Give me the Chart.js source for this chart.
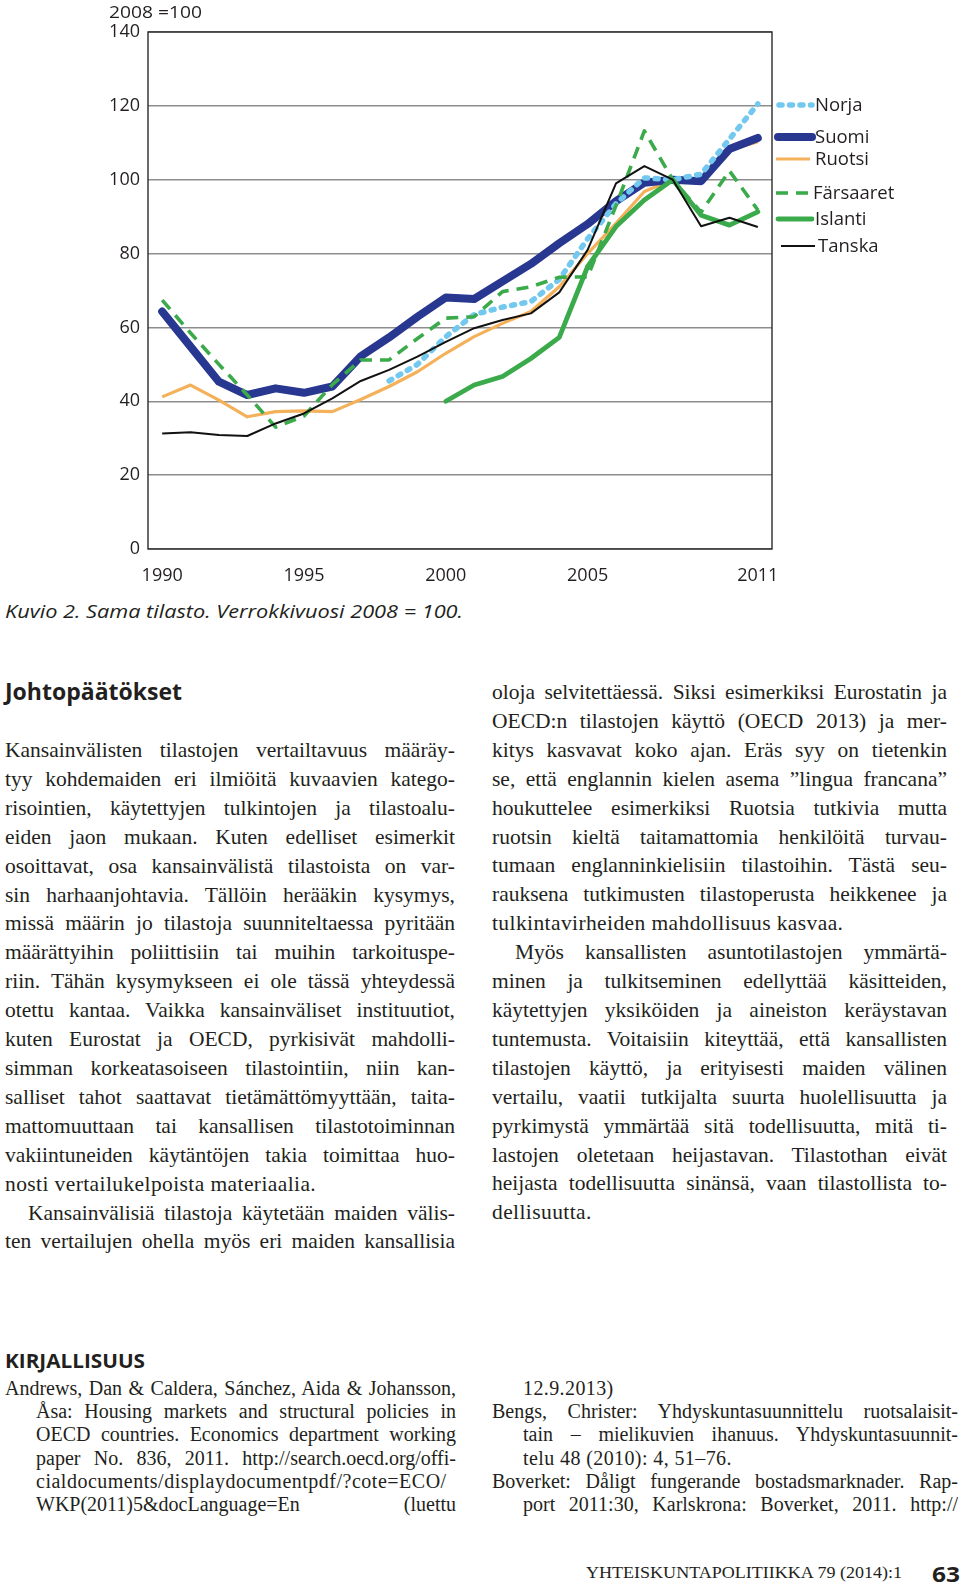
<!DOCTYPE html>
<html>
<head>
<meta charset="utf-8">
<script src="https://cdn.jsdelivr.net/npm/chart.js@4.4.0/dist/chart.umd.min.js"></script>
<style>
  html, body { margin: 0; padding: 0; background: #fff; }
  body { width: 960px; height: 1584px; position: relative; overflow: hidden; color: #231f20; }
  #chartBox { position: absolute; left: 0; top: 0; width: 960px; height: 590px; }
  .abs { position: absolute; white-space: nowrap; transform-origin: left center; }
  .sans { font-family: "Open Sans", sans-serif; }
  .col { position: absolute; font-family: "Liberation Serif", serif; font-size: 21.5px; line-height: 28.9px; }
  .col div { white-space: nowrap; text-align: justify; text-align-last: justify; }
  .col div.e { text-align-last: left; }
  .col div.i { padding-left: 23px; }
  .refs { position: absolute; font-family: "Liberation Serif", serif; font-size: 20px; line-height: 23.2px; }
  .refs div { white-space: nowrap; text-align: justify; text-align-last: justify; }
  .refs div.e { text-align-last: left; }
  .refs div.h { padding-left: 31px; }
</style>
</head>
<body>
<div id="chartBox"><canvas id="myLineChart" width="960" height="590"></canvas></div>
<div class="abs sans" data-w="93" style="left:109px; top:1px; font-size:17px; line-height:22px;">2008 =100</div>

<div class="abs sans" data-w="458" style="left:5px; top:599px; font-size:19px; line-height:24px; font-style:italic;">Kuvio 2. Sama tilasto. Verrokkivuosi 2008 = 100.</div>

<div class="abs sans" data-w="177" style="left:5px; top:677px; font-size:23px; line-height:28px; font-weight:700;">Johtopäätökset</div>

<div class="col" style="left:5px; top:736px; width:450px;">
  <div>Kansainvälisten tilastojen vertailtavuus määräy-</div>
  <div>tyy kohdemaiden eri ilmiöitä kuvaavien katego-</div>
  <div>risointien, käytettyjen tulkintojen ja tilastoalu-</div>
  <div>eiden jaon mukaan. Kuten edelliset esimerkit</div>
  <div>osoittavat, osa kansainvälistä tilastoista on var-</div>
  <div>sin harhaanjohtavia. Tällöin herääkin kysymys,</div>
  <div>missä määrin jo tilastoja suunniteltaessa pyritään</div>
  <div>määrättyihin poliittisiin tai muihin tarkoituspe-</div>
  <div>riin. Tähän kysymykseen ei ole tässä yhteydessä</div>
  <div>otettu kantaa. Vaikka kansainväliset instituutiot,</div>
  <div>kuten Eurostat ja OECD, pyrkisivät mahdolli-</div>
  <div>simman korkeatasoiseen tilastointiin, niin kan-</div>
  <div>salliset tahot saattavat tietämättömyyttään, taita-</div>
  <div>mattomuuttaan tai kansallisen tilastotoiminnan</div>
  <div>vakiintuneiden käytäntöjen takia toimittaa huo-</div>
  <div class="e">nosti vertailukelpoista materiaalia.</div>
  <div class="i">Kansainvälisiä tilastoja käytetään maiden välis-</div>
  <div>ten vertailujen ohella myös eri maiden kansallisia</div>
</div>

<div class="col" style="left:492px; top:678px; width:455px;">
  <div>oloja selvitettäessä. Siksi esimerkiksi Eurostatin ja</div>
  <div>OECD:n tilastojen käyttö (OECD 2013) ja mer-</div>
  <div>kitys kasvavat koko ajan. Eräs syy on tietenkin</div>
  <div>se, että englannin kielen asema ”lingua francana”</div>
  <div>houkuttelee esimerkiksi Ruotsia tutkivia mutta</div>
  <div>ruotsin kieltä taitamattomia henkilöitä turvau-</div>
  <div>tumaan englanninkielisiin tilastoihin. Tästä seu-</div>
  <div>rauksena tutkimusten tilastoperusta heikkenee ja</div>
  <div class="e">tulkintavirheiden mahdollisuus kasvaa.</div>
  <div class="i">Myös kansallisten asuntotilastojen ymmärtä-</div>
  <div>minen ja tulkitseminen edellyttää käsitteiden,</div>
  <div>käytettyjen yksiköiden ja aineiston keräystavan</div>
  <div>tuntemusta. Voitaisiin kiteyttää, että kansallisten</div>
  <div>tilastojen käyttö, ja erityisesti maiden välinen</div>
  <div>vertailu, vaatii tutkijalta suurta huolellisuutta ja</div>
  <div>pyrkimystä ymmärtää sitä todellisuutta, mitä ti-</div>
  <div>lastojen oletetaan heijastavan. Tilastothan eivät</div>
  <div>heijasta todellisuutta sinänsä, vaan tilastollista to-</div>
  <div class="e">dellisuutta.</div>
</div>

<div class="abs sans" data-w="140" style="left:5px; top:1349px; font-size:19px; line-height:24px; font-weight:700;">KIRJALLISUUS</div>

<div class="refs" style="left:5px; top:1377px; width:451px;">
  <div>Andrews, Dan &amp; Caldera, Sánchez, Aida &amp; Johansson,</div>
  <div class="h">Åsa: Housing markets and structural policies in</div>
  <div class="h">OECD countries. Economics department working</div>
  <div class="h">paper No. 836, 2011. http://search.oecd.org/offi-</div>
  <div class="h">cialdocuments/displaydocumentpdf/?cote=ECO/</div>
  <div class="h">WKP(2011)5&amp;docLanguage=En (luettu</div>
</div>

<div class="refs" style="left:492px; top:1377px; width:466px;">
  <div class="h e">12.9.2013)</div>
  <div>Bengs, Christer: Yhdyskuntasuunnittelu ruotsalaisit-</div>
  <div class="h">tain – mielikuvien ihanuus. Yhdyskuntasuunnit-</div>
  <div class="h e">telu 48 (2010): 4, 51–76.</div>
  <div>Boverket: Dåligt fungerande bostadsmarknader. Rap-</div>
  <div class="h">port 2011:30, Karlskrona: Boverket, 2011. http://</div>
</div>

<div class="abs" data-w="316" style="left:586px; top:1562px; font-family:'Liberation Serif', serif; font-size:16px; line-height:22px;">YHTEISKUNTAPOLITIIKKA 79 (2014):1</div>
<div class="abs sans" data-w="28" style="left:932px; top:1559px; font-size:22px; line-height:28px; font-weight:700;">63</div>

<script>
// years on the x axis
const years = ['1990','1991','1992','1993','1994','1995','1996','1997','1998','1999','2000',
               '2001','2002','2003','2004','2005','2006','2007','2008','2009','2010','2011'];
const shownYears = ['1990','1995','2000','2005','2011'];
const yTicks = [0, 20, 40, 60, 80, 100, 120, 140];

// index values, 2008 = 100
const norja     = [null, null, null, null, null, null, null, null, 45.5, 50, 57.5, 63.5, 65.5, 67, 73, 84, 93.5, 100.5, 100, 101.5, 111, 120.5];
const suomi     = [64.3, 54.8, 45.3, 41.7, 43.5, 42.3, 44, 52.2, 57.3, 62.9, 68.1, 67.7, 72.5, 77.2, 82.8, 88, 94.2, 99.2, 100, 99.6, 108.3, 111.3];
const ruotsi    = [41.2, 44.4, 40.3, 35.8, 37.2, 37.4, 37.2, 40.5, 44, 48, 53, 57.5, 61.1, 64.3, 71, 80, 88.2, 96.8, 100, 100, 108, 110.3];
const farsaaret = [67.4, 58.5, 50, 41.7, 33, 36, 44.5, 51.2, 51.2, 57, 62.5, 62.9, 69.7, 71, 73.6, 73.7, 93, 113.2, 100, 91.2, 102.4, 91.8];
const islanti   = [null, null, null, null, null, null, null, null, null, null, 40, 44.4, 46.7, 51.6, 57.3, 76.5, 87.3, 94.5, 100, 90.4, 87.7, 91.3];
const tanska    = [31.3, 31.6, 30.9, 30.6, 34, 36.7, 40.8, 45.5, 48.5, 52.1, 56.1, 59.8, 62, 63.8, 69.5, 81, 99, 103.7, 100, 87.4, 89.7, 87.2];

const tickFont = { family: 'Open Sans', size: 18 };

// legend sample positions (x from, x to, text x, y)
const legendPos = {
  Norja:     [779, 812, 815, 105],
  Suomi:     [778, 812, 815, 137],
  Ruotsi:    [776, 810, 815, 159],
  'Färsaaret': [776, 808, 813, 193],
  Islanti:   [778, 812, 815, 219],
  Tanska:    [781, 815, 818, 246]
};

const framePlugin = {
  id: 'frame',
  beforeDatasetsDraw(chart) {
    const a = chart.chartArea, c = chart.ctx;
    c.save();
    c.lineWidth = 1.4;
    c.strokeStyle = '#2a2a2a';
    c.strokeRect(a.left, a.top, a.right - a.left, a.bottom - a.top);
    c.restore();
  }
};

const legendPlugin = {
  id: 'sideLegend',
  afterDraw(chart) {
    const c = chart.ctx;
    chart.data.datasets.forEach(ds => {
      const p = legendPos[ds.label];
      c.save();
      c.strokeStyle = ds.borderColor;
      c.lineWidth = ds.borderWidth;
      c.lineCap = ds.borderCapStyle || 'butt';
      c.setLineDash(ds.borderDash || []);
      c.beginPath();
      c.moveTo(p[0], p[3]);
      c.lineTo(p[1], p[3]);
      c.stroke();
      c.setLineDash([]);
      c.fillStyle = '#231f20';
      c.font = '18.5px "Open Sans"';
      c.textBaseline = 'middle';
      c.fillText(ds.label, p[2], p[3] + 1);
      c.restore();
    });
  }
};

const data = {
  labels: years,
  datasets: [
    { label: 'Norja', data: norja, borderColor: '#72c8ee', borderWidth: 5.5, borderDash: [3, 7.5], borderCapStyle: 'round', order: 3 },
    { label: 'Suomi', data: suomi, borderColor: '#28378f', borderWidth: 8, borderCapStyle: 'round', order: 4 },
    { label: 'Ruotsi', data: ruotsi, borderColor: '#f5b05a', borderWidth: 3.2, order: 5 },
    { label: 'Färsaaret', data: farsaaret, borderColor: '#3aaa4b', borderWidth: 3.6, borderDash: [12, 8], order: 1 },
    { label: 'Islanti', data: islanti, borderColor: '#3aaa4b', borderWidth: 4.8, borderCapStyle: 'round', order: 2 },
    { label: 'Tanska', data: tanska, borderColor: '#111111', borderWidth: 2, order: 0 }
  ]
};
data.datasets.forEach(ds => {
  ds.fill = false;
  ds.tension = 0;
  ds.pointRadius = 0;
  ds.pointHoverRadius = 0;
  ds.borderJoinStyle = 'round';
  ds.spanGaps = false;
});

const config = {
  type: 'line',
  data: data,
  plugins: [framePlugin, legendPlugin],
  options: {
    responsive: false,
    animation: false,
    layout: { padding: { left: 0, right: 188, top: 32, bottom: 0 } },
    plugins: { legend: { display: false }, tooltip: { enabled: false } },
    scales: {
      x: {
        offset: true,
        grid: { display: false },
        border: { display: false },
        ticks: {
          autoSkip: false, maxRotation: 0, padding: 8, color: '#231f20', font: tickFont,
          callback: (v, i) => shownYears.includes(years[i]) ? years[i] : ''
        },
        afterFit: s => { s.height = 41; }
      },
      y: {
        min: 0, max: 140,
        afterBuildTicks: s => { s.ticks = yTicks.map(v => ({ value: v })); },
        grid: { color: '#8d8d8d', lineWidth: 1.5, drawTicks: false },
        border: { display: false },
        ticks: { padding: 8, color: '#231f20', font: tickFont },
        afterFit: s => { s.width = 148; }
      }
    }
  }
};

new Chart(document.getElementById('myLineChart').getContext('2d'), config);

// fit headings to the measured widths
document.querySelectorAll('[data-w]').forEach(el => {
  const w = el.getBoundingClientRect().width;
  el.style.transform = 'scaleX(' + (parseFloat(el.dataset.w) / w) + ')';
});

// even out the justified lines: share the slack between letters and words,
// and squeeze lines that are too long for their column
function natWidth(el) {
  const r = document.createRange();
  r.selectNodeContents(el);
  return r.getBoundingClientRect().width;
}
document.querySelectorAll('.col div, .refs div').forEach(el => {
  const pad = parseFloat(getComputedStyle(el).paddingLeft) || 0;
  const avail = el.clientWidth - pad;
  const txt = el.textContent;
  const chars = txt.length;
  const spaces = (txt.match(/ /g) || []).length || 1;
  const isEnd = el.classList.contains('e');
  let nat = natWidth(el);
  if (nat > avail) {
    let ws = -(nat - avail) / spaces - 0.3;
    if (ws < -2) {
      el.style.letterSpacing = (-(nat - avail - 2 * spaces) / chars - 0.05) + 'px';
      ws = -2;
    }
    el.style.wordSpacing = ws + 'px';
  } else if (!isEnd) {
    const ls = Math.min(1.5, (avail - nat) * 0.7 / chars);
    el.style.letterSpacing = ls + 'px';
  } else {
    el.style.letterSpacing = '0.4px';
  }
});
</script>
</body>
</html>
